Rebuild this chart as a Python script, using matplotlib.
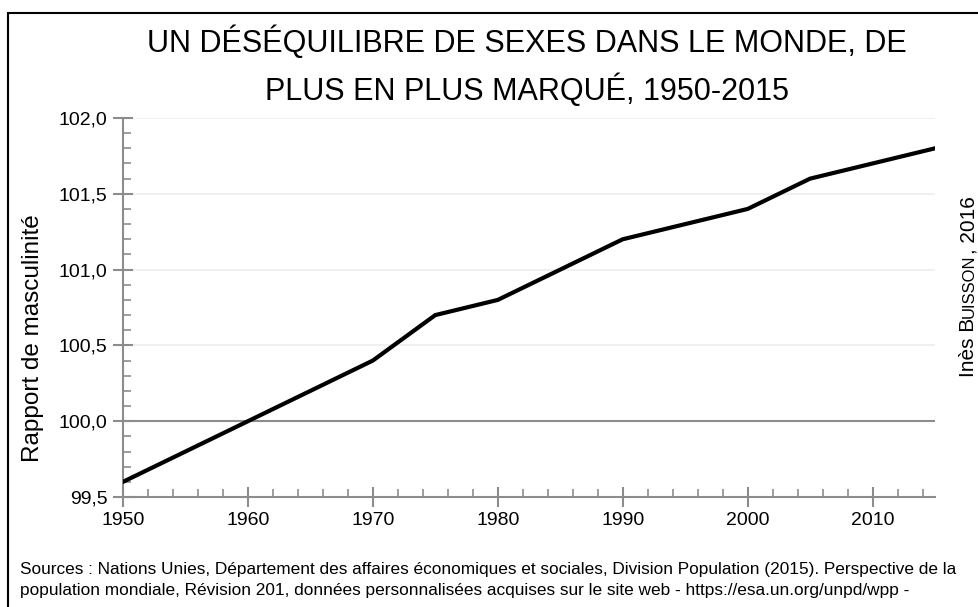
import matplotlib
matplotlib.use("Agg")
import matplotlib.pyplot as plt
from matplotlib.ticker import MultipleLocator, FuncFormatter
from matplotlib.patches import Rectangle

years = [1950, 1955, 1960, 1965, 1970, 1975, 1980, 1985, 1990, 1995, 2000, 2005, 2010, 2015]
ratio = [99.6, 99.8, 100.0, 100.2, 100.4, 100.7, 100.8, 101.0, 101.2, 101.3, 101.4, 101.6, 101.7, 101.8]
title = "UN DÉSÉQUILIBRE DE SEXES DANS LE MONDE, DE\nPLUS EN PLUS MARQUÉ, 1950-2015"
ylabel = "Rapport de masculinité"
source = ("Sources : Nations Unies, Département des affaires économiques et sociales, Division Population (2015). Perspective de la\n"
          "population mondiale, Révision 201, données personnalisées acquises sur le site web - https://esa.un.org/unpd/wpp -")
credit_parts = ["Inès B", "UISSON", ", 2016"]

plt.rcParams['font.family'] = ["Liberation Sans Narrow", "Liberation Sans", "DejaVu Sans"]

fig = plt.figure(figsize=(9.79, 6.07), dpi=100)
fig.patches.append(Rectangle((8/979, -0.1), 1.2, 1.1 - 13/607, transform=fig.transFigure,
                             fill=False, edgecolor="black", linewidth=1.5))
ax = fig.add_axes([123/979, 1 - 497/607, (935 - 123)/979, (497 - 118)/607])
ax.plot(years, ratio, color="black", linewidth=3, solid_joinstyle="miter", zorder=3)
ax.set_xlim(1950, 2015)
ax.set_ylim(99.5, 102.0)
ax.yaxis.set_major_locator(MultipleLocator(0.5))
ax.yaxis.set_minor_locator(MultipleLocator(0.1))
ax.xaxis.set_major_locator(MultipleLocator(10))
ax.xaxis.set_minor_locator(MultipleLocator(2))
ax.yaxis.set_major_formatter(FuncFormatter(lambda v, p: f"{v:.1f}".replace(".", ",")))
for y in [100.5, 101.0, 101.5, 102.0]:
    ax.axhline(y, color="#eeeeee", linewidth=1.2, zorder=1)
ax.axhline(100.0, color="#8c8c8c", linewidth=1.5, zorder=2)
for s in ["top", "right"]:
    ax.spines[s].set_visible(False)
for s in ["left", "bottom"]:
    ax.spines[s].set_color("#8c8c8c")
    ax.spines[s].set_linewidth(1.5)
ax.tick_params(which="major", direction="inout", length=14, width=1.5, color="#8c8c8c", labelsize=14, pad=4)
ax.tick_params(which="minor", direction="in", length=6, width=1.2, color="#8c8c8c")
fig.text(33/979, 1 - 338/607, ylabel, rotation=90, ha="center", va="center", fontsize=17.5)
fig.text(527/979, 1 - 66/607, title, ha="center", va="center", fontsize=22, linespacing=1.55)
t1 = fig.text(969/979, 1 - 377/607, credit_parts[0], rotation=90, ha="center", va="bottom", fontsize=15)
t2 = ax.annotate(credit_parts[1], xy=(0.5, 1), xycoords=t1, rotation=90, ha="center", va="bottom",
                 fontsize=12, annotation_clip=False)
t3 = ax.annotate(credit_parts[2], xy=(0.5, 1), xycoords=t2, rotation=90, ha="center", va="bottom",
                 fontsize=15, annotation_clip=False)
fig.text(20/979, 1 - 580/607, source, ha="left", va="center", fontsize=12.4, linespacing=1.5)
fig.savefig("out.png", dpi=100)
